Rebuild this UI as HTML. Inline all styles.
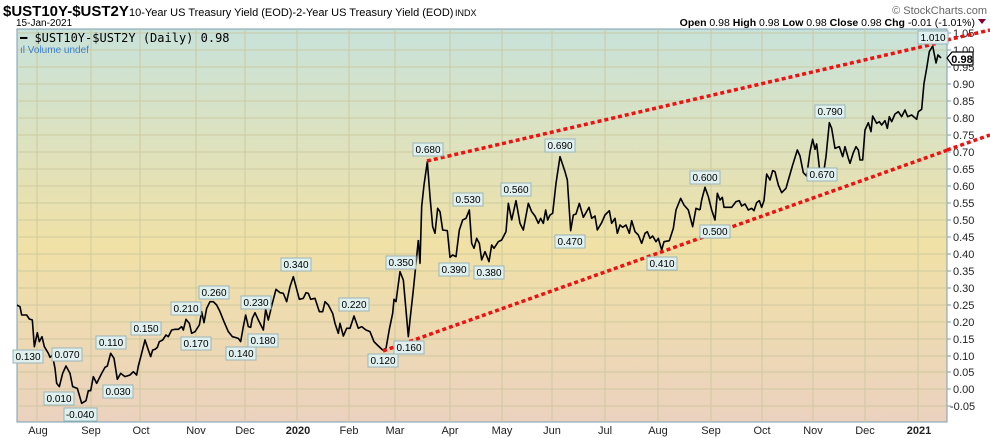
<!DOCTYPE html>
<html><head><meta charset="utf-8"><style>
body{margin:0;background:#fff;width:990px;height:438px;overflow:hidden;font-family:"Liberation Sans",sans-serif}
svg{position:absolute;left:0;top:0}
</style></head><body>
<svg width="990" height="438" viewBox="0 0 990 438" font-family="Liberation Sans, sans-serif">
<defs>
<linearGradient id="bg" x1="0" y1="0" x2="0" y2="1">
<stop offset="0" stop-color="#c8e2da"/>
<stop offset="0.55" stop-color="#f0e1a6"/>
<stop offset="1" stop-color="#ebd2bf"/>
</linearGradient>
<clipPath id="cp"><rect x="17" y="29" width="930" height="393"/></clipPath>
</defs>
<text x="3" y="16" font-size="15" font-weight="bold">$UST10Y-$UST2Y</text>
<text x="129" y="16" font-size="11">10-Year US Treasury Yield (EOD)-2-Year US Treasury Yield (EOD)</text>
<text x="455" y="16" font-size="9">INDX</text>
<text x="987" y="14" font-size="11" fill="#666" text-anchor="end">© StockCharts.com</text>
<text x="16" y="26" font-size="10">15-Jan-2021</text>
<text x="975" y="26" font-size="10.5" text-anchor="end"><tspan font-weight="bold">Open</tspan> 0.98  <tspan font-weight="bold">High</tspan> 0.98  <tspan font-weight="bold">Low</tspan> 0.98  <tspan font-weight="bold">Close</tspan> 0.98  <tspan font-weight="bold">Chg</tspan> -0.01 (-1.01%)</text>
<polygon points="978,19 986,19 982,24" fill="#800030"/>
<rect x="17" y="29" width="930" height="393" fill="url(#bg)" stroke="#7a9fb0"/>
<g stroke="#c8c59a" stroke-width="1" opacity="0.8">
<path d="M17 33H947M17 50H947M17 67H947M17 84H947M17 101H947M17 118H947M17 135H947M17 152H947M17 169H947M17 186H947M17 203H947M17 220H947M17 237H947M17 254H947M17 271H947M17 288H947M17 305H947M17 322H947M17 339H947M17 356H947M17 372H947M17 389H947M17 406H947"/>
<path d="M37 29V422M91 29V422M140 29V422M196 29V422M245 29V422M297 29V422M349 29V422M395 29V422M450 29V422M502 29V422M552 29V422M605 29V422M658 29V422M711 29V422M762 29V422M813 29V422M865 29V422M918 29V422"/>
</g>
<g font-size="11" fill="#222">
<text x="953" y="37">1.05</text><text x="953" y="54">1.00</text><text x="953" y="71">0.95</text><text x="953" y="88">0.90</text><text x="953" y="105">0.85</text><text x="953" y="122">0.80</text><text x="953" y="139">0.75</text><text x="953" y="156">0.70</text><text x="953" y="173">0.65</text><text x="953" y="190">0.60</text><text x="953" y="207">0.55</text><text x="953" y="224">0.50</text><text x="953" y="241">0.45</text><text x="953" y="258">0.40</text><text x="953" y="275">0.35</text><text x="953" y="292">0.30</text><text x="953" y="309">0.25</text><text x="953" y="326">0.20</text><text x="953" y="343">0.15</text><text x="953" y="360">0.10</text><text x="953" y="376">0.05</text><text x="953" y="393">0.00</text><text x="950" y="410">-0.05</text>
</g>
<g stroke="#7a9fb0"><path d="M947 33h4M947 50h4M947 67h4M947 84h4M947 101h4M947 118h4M947 135h4M947 152h4M947 169h4M947 186h4M947 203h4M947 220h4M947 237h4M947 254h4M947 271h4M947 288h4M947 305h4M947 322h4M947 339h4M947 356h4M947 372h4M947 389h4M947 406h4"/></g>
<g font-size="11" fill="#222" text-anchor="middle">
<text x="38" y="434">Aug</text><text x="91" y="434">Sep</text><text x="141" y="434">Oct</text><text x="196" y="434">Nov</text><text x="245" y="434">Dec</text><text x="298" y="434" font-weight="bold">2020</text><text x="349" y="434">Feb</text><text x="395" y="434">Mar</text><text x="450" y="434">Apr</text><text x="502" y="434">May</text><text x="552" y="434">Jun</text><text x="605" y="434">Jul</text><text x="658" y="434">Aug</text><text x="711" y="434">Sep</text><text x="762" y="434">Oct</text><text x="813" y="434">Nov</text><text x="865" y="434">Dec</text><text x="919" y="434" font-weight="bold">2021</text>
</g>
<text x="20" y="42" font-size="12" font-family="DejaVu Sans Mono, monospace">━ $UST10Y-$UST2Y (Daily) 0.98</text>
<text x="20" y="53" font-size="10" fill="#3a7fd0">ıl Volume undef</text>
<g clip-path="url(#cp)" fill="none" stroke="#000" stroke-width="1.6" stroke-linejoin="round">
<g transform="translate(0,240) scale(0.33333)"><polyline vector-effect="non-scaling-stroke" points="50,195 60,200 65,225 80,225 88,237 97,240 103,320 112,278 118,305 126,290 133,320 145,340 150,352 157,345 165,385 170,430 178,440 188,400 198,378 210,400 218,440 232,445 245,490 258,482 265,452 272,452 280,410 290,430 305,400 315,382 322,378 332,340 342,355 352,418 362,400 375,410 390,405 400,395 410,405 415,378 425,340 435,300 445,330 452,350 458,330 465,328 472,322 478,305 488,300 498,285 505,290 515,270 525,268 535,268 545,260 550,270 558,238 568,250 575,280 585,275 598,255 605,215 612,248 620,205 630,185 640,185 650,195 660,215 672,245 685,275 697,290 705,292 715,295 722,305 730,260 737,225 745,260 752,262 757,235 765,218 775,240 785,260 790,270 797,208 805,240 815,198 828,148 840,158 850,160 860,185 870,140 880,110 888,140 898,178 910,175 918,158 925,160 932,178 945,175 958,215 968,215 975,185 985,195 998,220 1005,250 1015,280 1020,250 1030,288 1040,265 1050,265 1062,228 1075,265 1085,260 1098,270 1110,275 1122,305 1135,318 1148,330 1158,325 1168,268 1178,220 1182,178 1188,185 1200,95 1210,120 1225,290 1230,240 1240,150 1250,50 1255,0"/></g>
<g transform="translate(370,130) scale(0.33333)"><polyline vector-effect="non-scaling-stroke" points="145,330 150,400 155,230 162,165 172,95 180,200 188,290 195,310 203,235 210,245 218,300 232,302 240,382 248,375 258,380 268,300 278,270 288,265 298,240 305,340 312,355 320,325 328,340 335,390 345,365 357,395 365,345 372,355 385,335 395,330 408,305 415,220 425,270 438,212 450,280 460,300 475,220 485,245 495,258 505,280 512,265 520,280 527,240 533,270 540,255 548,250 558,160 570,80 585,125 592,150 602,302 610,255 618,252 628,220 640,262 648,248 657,232 665,265 675,258 682,300 695,278 705,255 718,242 725,280 735,265 742,310 750,285 758,292 768,285 778,310 785,272 795,305 805,315 815,340 825,310 832,305 840,325 848,318 858,335 865,325 875,360 882,335 898,332 910,295 918,240 932,205 942,225 955,240 968,290 978,235 990,240"/></g>
<g transform="translate(640,20) scale(0.33333)"><polyline vector-effect="non-scaling-stroke" points="180,570 185,540 195,502 205,530 215,570 225,600 232,520 240,540 247,532 252,562 275,562 288,545 298,542 305,558 315,552 325,570 335,565 342,572 350,548 358,542 365,562 372,542 380,462 390,480 398,452 405,455 415,495 425,518 438,505 445,480 458,435 472,390 480,408 490,458 500,468 510,395 518,358 525,388 530,372 540,460 552,450 558,410 568,308 575,325 585,385 598,380 608,410 615,380 625,415 630,430 640,398 648,380 655,390 660,420 668,420 675,330 685,308 693,335 698,288 710,310 718,305 725,315 735,302 742,325 748,290 755,305 765,282 775,275 785,290 795,270 803,290 815,285 830,298 835,275 845,268 852,190 860,145 868,95 878,78"/></g>
<polyline points="932.7,46 936,63 938,55 941,58"/>
</g>
<g clip-path="url(#cp)" stroke="#ee1111" stroke-width="3.5" stroke-dasharray="4,3">
<line x1="427" y1="161" x2="990" y2="31"/>
<line x1="383" y1="351" x2="990" y2="135"/>
</g>
<g stroke="#ee1111" stroke-width="3.5" stroke-dasharray="4,3">
<line x1="947" y1="40" x2="990" y2="30"/>
<line x1="947" y1="150" x2="990" y2="135"/>
</g>
<g font-size="10" text-anchor="middle" fill="#000">
<g id="lbls"></g>
</g>
<g font-size="10" text-anchor="middle">
<g fill="#dff0ee" stroke="#9ab4b8">
<rect x="13" y="350" width="30" height="13"/><rect x="52" y="348" width="30" height="13"/><rect x="44" y="392" width="30" height="13"/><rect x="64" y="408" width="33" height="13"/><rect x="96" y="336" width="30" height="13"/><rect x="103" y="385" width="30" height="13"/><rect x="131" y="322" width="30" height="13"/><rect x="171" y="302" width="30" height="13"/><rect x="181" y="337" width="30" height="13"/><rect x="199" y="286" width="30" height="13"/><rect x="241" y="296" width="30" height="13"/><rect x="226" y="347" width="30" height="13"/><rect x="248" y="334" width="30" height="13"/><rect x="281" y="258" width="30" height="13"/><rect x="339" y="298" width="30" height="13"/><rect x="368" y="354" width="30" height="13"/><rect x="386" y="256" width="30" height="13"/><rect x="394" y="341" width="30" height="13"/><rect x="413" y="143" width="30" height="13"/><rect x="453" y="193" width="30" height="13"/><rect x="439" y="263" width="30" height="13"/><rect x="474" y="266" width="30" height="13"/><rect x="501" y="183" width="30" height="13"/><rect x="545" y="139" width="30" height="13"/><rect x="555" y="235" width="30" height="13"/><rect x="690" y="171" width="30" height="13"/><rect x="700" y="225" width="30" height="13"/><rect x="647" y="257" width="30" height="13"/><rect x="815" y="105" width="30" height="13"/><rect x="807" y="168" width="30" height="13"/><rect x="918" y="31" width="30" height="13"/>
</g>
<text x="28" y="360">0.130</text><text x="67" y="358">0.070</text><text x="59" y="402">0.010</text><text x="80" y="418">-0.040</text><text x="111" y="346">0.110</text><text x="118" y="395">0.030</text><text x="146" y="332">0.150</text><text x="186" y="312">0.210</text><text x="196" y="347">0.170</text><text x="214" y="296">0.260</text><text x="256" y="306">0.230</text><text x="241" y="357">0.140</text><text x="263" y="344">0.180</text><text x="296" y="268">0.340</text><text x="354" y="308">0.220</text><text x="383" y="364">0.120</text><text x="401" y="266">0.350</text><text x="409" y="351">0.160</text><text x="428" y="153">0.680</text><text x="468" y="203">0.530</text><text x="454" y="273">0.390</text><text x="489" y="276">0.380</text><text x="516" y="193">0.560</text><text x="560" y="149">0.690</text><text x="570" y="245">0.470</text><text x="705" y="181">0.600</text><text x="715" y="235">0.500</text><text x="662" y="267">0.410</text><text x="830" y="115">0.790</text><text x="822" y="178">0.670</text><text x="933" y="41">1.010</text>
</g>
<polygon points="947,58 952,52 973,52 973,65 952,65" fill="#fff" stroke="#000" stroke-width="1.2"/>
<text x="962" y="63" font-size="11" font-weight="bold" text-anchor="middle">0.98</text>
</svg>
</body></html>
